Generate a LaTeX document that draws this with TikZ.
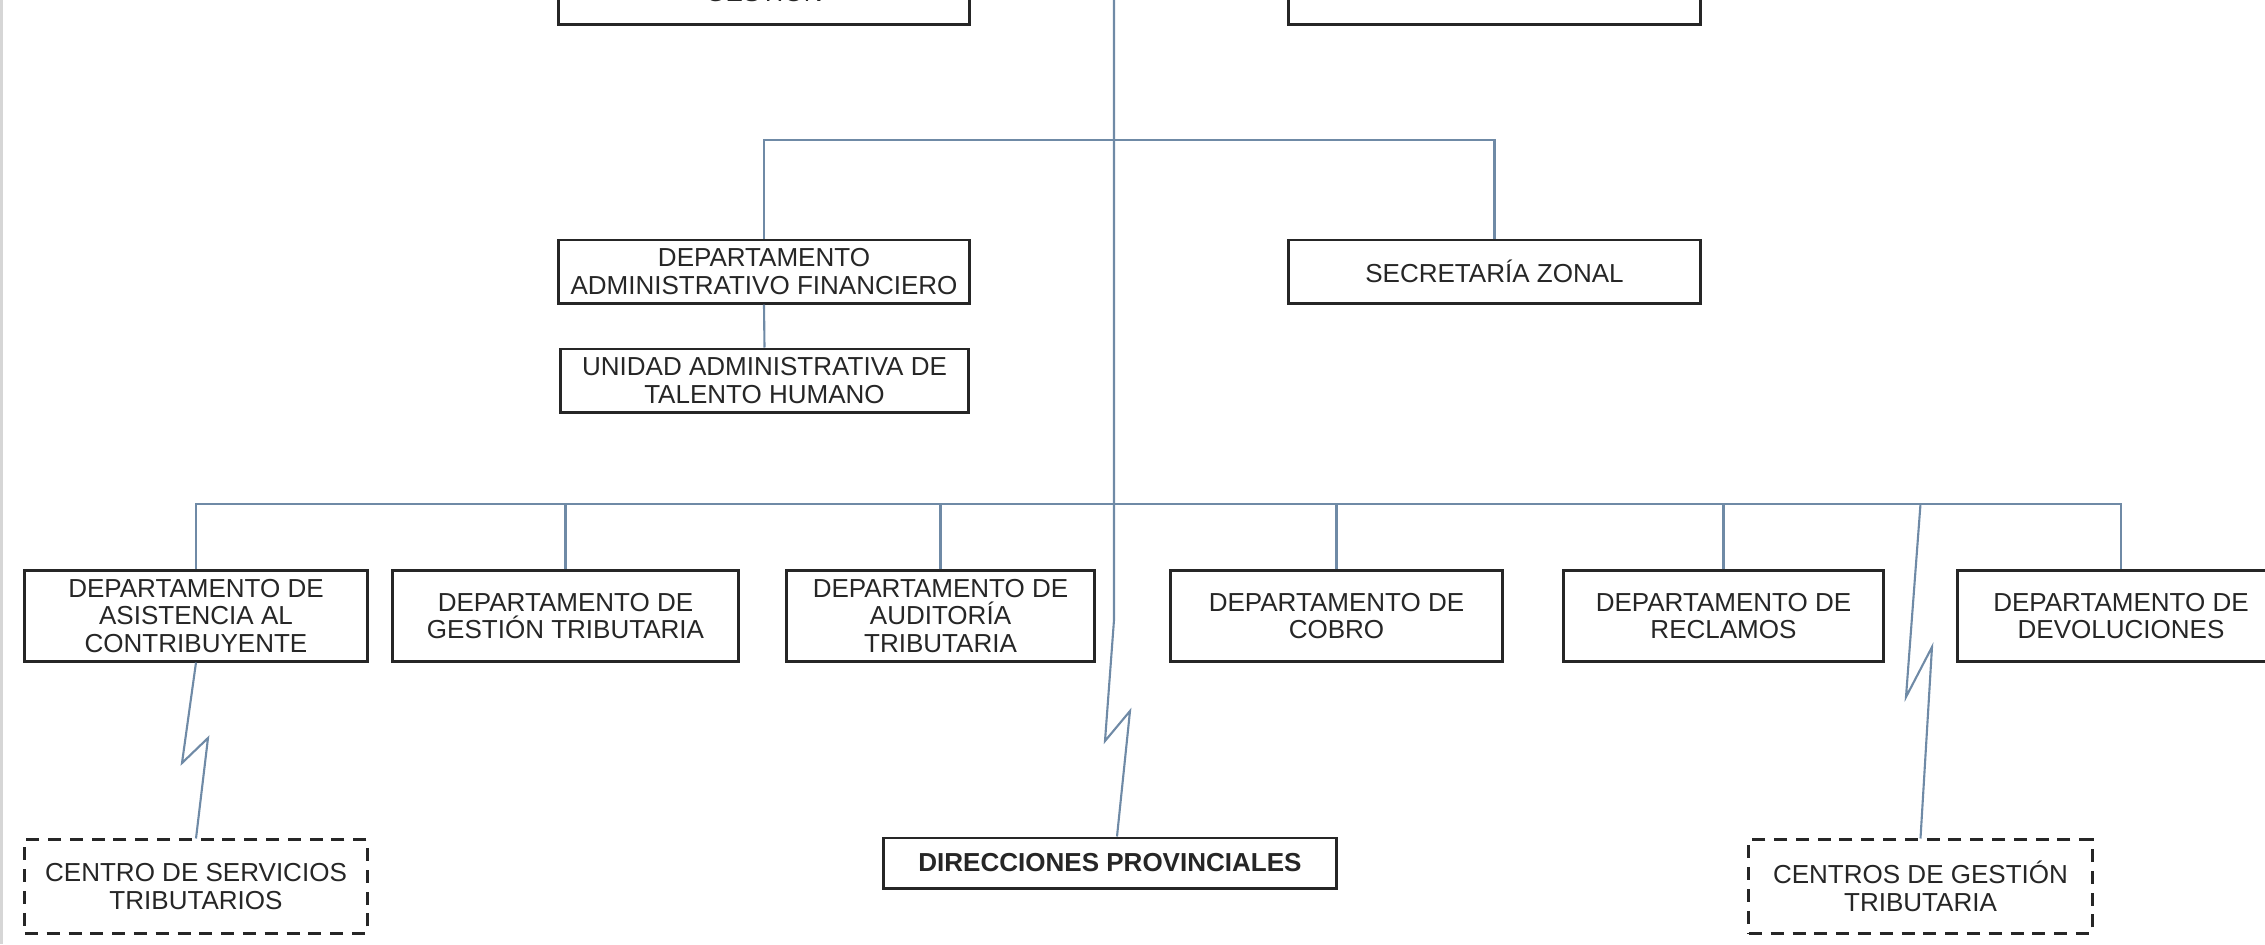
\documentclass[tikz,border=0pt]{standalone}
\usepackage{fontspec}
\setmainfont{Liberation Sans}
\usepackage[HTML]{xcolor}
\usepackage{tikz}
\usetikzlibrary{positioning}
\definecolor{linkblue}{HTML}{6F8AA6}
\definecolor{edgegray}{HTML}{D6D6D6}

\begin{document}
\begin{tikzpicture}[x=0.01cm, y=-0.01cm,
  unit/.style={draw=black!85, line width=0.85pt, fill=white, align=center,
    inner sep=0pt, text=black!85, font=\fontsize{7.4}{7.9}\selectfont},
  dept/.style={unit, minimum height=0.9cm},
  remote/.style={dept, minimum height=0.93cm, dash pattern=on 3.7pt off 2.5pt},
  link/.style={draw=linkblue, line width=0.6pt}]
\useasboundingbox (0,0) rectangle (2265,944);
\clip (0,0) rectangle (2265,944);
% page edge
\draw[edgegray, line width=0.8pt] (1.5,0) -- (1.5,944);
% top level (cut off)
\node[unit, minimum width=4.10cm, inner ysep=6.6pt, anchor=south] (ctrl) at (764,26) {GESTIÓN};
\node[unit, minimum width=4.11cm, minimum height=1cm, anchor=south] (topright) at (1494.5,26) {};
\coordinate (top) at (1114,0);
\coordinate (bus1) at (1114,140);
\coordinate (bus2) at (1114,504);
% support units
\node[unit, minimum width=4.10cm, minimum height=0.63cm] (daf) at (764,271.5) {DEPARTAMENTO\\ADMINISTRATIVO FINANCIERO};
\node[unit, minimum width=4.11cm, minimum height=0.63cm] (sz) at (1494.5,271.5) {SECRETARÍA ZONAL};
\node[unit, minimum width=4.07cm, minimum height=0.63cm] (uth) at (764.5,380.5) {UNIDAD ADMINISTRATIVA DE\\TALENTO HUMANO};
% departments
\node[dept, minimum width=3.42cm] (asis) at (196,616) {DEPARTAMENTO DE\\ASISTENCIA AL\\CONTRIBUYENTE};
\node[dept, minimum width=3.45cm] (gest) at (565.5,616) {DEPARTAMENTO DE\\GESTIÓN TRIBUTARIA};
\node[dept, minimum width=3.07cm] (aud) at (940.5,616) {DEPARTAMENTO DE\\AUDITORÍA\\TRIBUTARIA};
\node[dept, minimum width=3.31cm] (cob) at (1336.5,616) {DEPARTAMENTO DE\\COBRO};
\node[dept, minimum width=3.19cm] (rec) at (1723.5,616) {DEPARTAMENTO DE\\RECLAMOS};
\node[dept, minimum width=3.26cm] (dev) at (2121,616) {DEPARTAMENTO DE\\DEVOLUCIONES};
% decentralised units
\node[remote, minimum width=3.42cm] (cst) at (196,886.5) {CENTRO DE SERVICIOS\\TRIBUTARIOS};
\node[unit, minimum width=4.52cm, minimum height=0.5cm, font=\fontsize{7.4}{7.9}\selectfont\bfseries] (dp) at (1110,863) {DIRECCIONES PROVINCIALES};
\node[remote, minimum width=3.43cm] (cgt) at (1920.5,886.5) {CENTROS DE GESTIÓN\\TRIBUTARIA};
% connectors
\draw[link] (top) -- (1114,620) -- (1105,741) -- (1130,711) -- ([xshift=0.07cm]dp.north);
\draw[link] (daf.north) |- (bus1) -| (sz.north);
\draw[link] (daf.south) -- (uth.north);
\draw[link] (asis.north) |- (bus2) -| (dev.north);
\foreach \d in {gest,aud,cob,rec}
  \draw[link] (\d.north) -- (\d.north |- bus2);
\draw[link] (asis.south) -- (182,763) -- (208,738) -- (cst.north);
\draw[link] (cgt.north |- bus2) -- (1906,697) -- (1932,647) -- (cgt.north);
\end{tikzpicture}
\end{document}
